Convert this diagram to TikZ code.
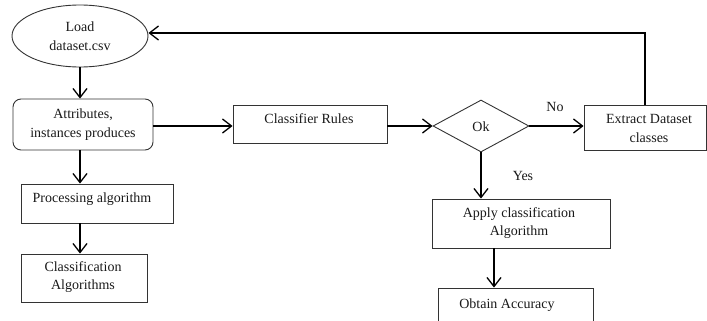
\documentclass[tikz,border=0pt]{standalone}
\usepackage{fontspec}
\setmainfont{Liberation Serif}
\usetikzlibrary{shapes.geometric,arrows.meta}
\begin{document}
\begin{tikzpicture}[x=1pt,y=-1pt,
  font=\fontsize{14}{18.5}\selectfont,
  frame/.style={draw=black!80,line width=0.9pt,inner sep=0pt,text=black!90},
  box/.style={frame,rectangle},
  txt/.style={inner sep=0pt,align=center,text=black!90},
  arr/.style={draw=black,line width=1.3pt,
    -{Straight Barb[length=9pt,width=14pt,line width=1.3pt]}}]
\clip (0,0) rectangle (707,321);

% left column
\node[frame,ellipse,minimum width=136,minimum height=62,align=center] (load) at (80,36) {Load\\dataset.csv};
\node[box,rounded corners=8pt,minimum width=140,minimum height=51,align=center] (attr) at (83,124.5) {Attributes,\\instances produces};
\node[box,minimum width=152,minimum height=39] (proc) at (97,203.5) {};
\node[txt] (proc-t) at (92,199) {Processing algorithm};
\node[box,minimum width=126,minimum height=48] (cls) at (84,278) {};
\node[txt] (cls-t) at (83,277) {Classification\\Algorithms};

% middle row
\node[box,minimum width=154,minimum height=38] (rules) at (310,124) {};
\node[txt] (rules-t) at (309,119) {Classifier Rules};
\node[frame,diamond,aspect=1.85,minimum width=96,minimum height=52] (ok) at (481,126) {};
\node[txt] (ok-t) at (481,127) {Ok};
\node[box,minimum width=122,minimum height=45] (extr) at (645,127.5) {};
\node[txt] (extr-t) at (649,128.5) {Extract Dataset\\classes};

% right column
\node[box,minimum width=178,minimum height=49] (apply) at (521,223.5) {};
\node[txt] (apply-t) at (519,223) {Apply classification\\Algorithm};
\node[box,minimum width=155,minimum height=60] (obt) at (515.5,318) {};
\node[txt] (obt-t) at (507,305) {Obtain Accuracy};

% branch labels
\node[txt] (no) at (555,107) {No};
\node[txt] (yes) at (523,176) {Yes};

% connectors
\draw[arr] (load.south) -- (load.south |- attr.north);
\draw[arr] (load.south |- attr.south) -- (load.south |- proc.north);
\draw[arr] (load.south |- proc.south) -- (load.south |- cls.north);
\draw[arr] (attr.east |- ok) -- (rules.west |- ok);
\draw[arr] (rules.east |- ok) -- (ok.west);
\draw[arr] (ok.east) -- (extr.west |- ok);
\draw[arr] (extr.north) |- ([yshift=3pt]load.east);
\draw[arr] (ok.south) -- (ok.south |- apply.north);
\coordinate (ax) at (494,0);
\draw[arr] (apply.south -| ax) -- (obt.north -| ax);
\end{tikzpicture}
\end{document}
